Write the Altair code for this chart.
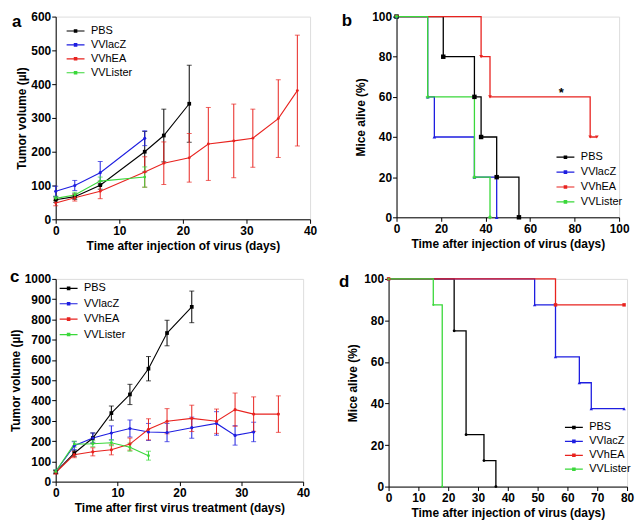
import altair as alt
import pandas as pd

FONT = "Liberation Sans"
SERIES = ["PBS", "VVlacZ", "VVhEA", "VVLister"]
COLORS = ["#000000", "#1e1ee0", "#e8231f", "#3ad83a"]

# ---- panel a: tumor volume ----
a_t_pbs = [0, 3, 7, 14, 17, 21]
a_pbs = [58, 67, 101, 200, 248, 342]
a_pbs_err = [8, 8, 12, 60, 78, 114]
a_t_lacz = [0, 3, 7, 14]
a_lacz = [83, 100, 138, 240]
a_lacz_err = [15, 15, 33, 22]
a_t_hea = [0, 3, 7, 14, 17, 21, 24, 28, 31, 35, 38]
a_hea = [48, 64, 83, 140, 166, 182, 223, 232, 240, 298, 381]
a_hea_err = [8, 10, 22, 45, 63, 72, 108, 109, 86, 115, 164]
a_t_lister = [0, 3, 7, 14]
a_lister = [62, 72, 113, 125]
a_lister_err = [6, 8, 12, 30]

# ---- panel b: survival ----
b_t_pbs = [0, 21, 35, 38, 45, 55]
b_pbs = [100, 80, 60, 40, 20, 0]
b_t_lacz = [0, 14, 17, 35, 45]
b_lacz = [100, 60, 40, 20, 0]
b_t_hea = [0, 38, 42, 87, 90]
b_hea = [100, 80, 60, 40, 40]
b_t_lister = [0, 14, 35, 42]
b_lister = [100, 60, 20, 0]
b_star_t = [74]
b_star_y = [62]

# ---- panel c: tumor volume ----
c_t_pbs = [0, 3, 6, 9, 12, 15, 18, 22]
c_pbs = [47, 140, 215, 338, 430, 557, 733, 862]
c_pbs_err = [8, 15, 25, 35, 50, 60, 63, 78]
c_t_lacz = [0, 3, 6, 9, 12, 15, 18, 22, 26, 29, 32]
c_lacz = [50, 177, 215, 240, 262, 245, 242, 266, 287, 228, 245]
c_lacz_err = [8, 20, 25, 35, 42, 42, 45, 52, 58, 48, 48]
c_t_hea = [0, 3, 6, 9, 12, 15, 18, 22, 26, 29, 32, 36]
c_hea = [45, 133, 147, 157, 185, 258, 298, 312, 298, 355, 333, 333]
c_hea_err = [8, 15, 20, 25, 30, 52, 62, 65, 60, 82, 85, 90]
c_t_lister = [0, 3, 6, 9, 12, 15]
c_lister = [50, 185, 187, 192, 170, 128]
c_lister_err = [8, 15, 15, 15, 20, 22]

# ---- panel d: survival ----
d_t_pbs = [0, 22, 26, 32, 36]
d_pbs = [100, 75, 25, 12.5, 0]
d_t_lacz = [0, 49, 56, 64, 68, 79]
d_lacz = [100, 87.5, 62.5, 50, 37.5, 37.5]
d_t_hea = [0, 56, 79]
d_hea = [100, 87.5, 87.5]
d_t_lister = [0, 15, 18]
d_lister = [100, 87.5, 0]

LEG_PATH = "M-1.2,0H1.2M-0.16,-0.16H0.16V0.16H-0.16Z"


def tumor_df(ts, ms, es):
    rows = []
    for name, t, m, e in zip(SERIES, ts, ms, es):
        for ti, mi, ei in zip(t, m, e):
            rows.append(dict(series=name, t=ti, mean=mi, lo=mi - ei, hi=mi + ei))
    return pd.DataFrame(rows)


def surv_df(ts, ys):
    rows = []
    for name, t, y in zip(SERIES, ts, ys):
        for ti, yi in zip(t, y):
            rows.append(dict(series=name, t=ti, y=yi))
    return pd.DataFrame(rows)


def axis(vals, title, lpad=2, tpad=4):
    return alt.Axis(values=vals, title=title, grid=False, format="d", labelFont=FONT,
                    labelFontSize=12, labelFontWeight="bold", titleFont=FONT, titleFontSize=12,
                    titleFontWeight="bold", labelColor="black", titleColor="black",
                    domainColor="black", tickColor="black", tickSize=4, labelPadding=lpad,
                    titlePadding=tpad, labelFlush=False, labelOverlap=False)


def legend(x, y, spacing):
    return alt.Legend(title=None, orient="none", legendX=x, legendY=y, symbolType=LEG_PATH,
                      symbolSize=225, symbolStrokeWidth=1.2, labelFont=FONT, labelFontSize=11,
                      labelColor="black", rowPadding=spacing, labelOffset=7, padding=0)


def letter(ch, x, y):
    return alt.Chart(pd.DataFrame({"l": [ch]})).mark_text(
        font=FONT, fontSize=17, fontWeight="bold", align="left", baseline="middle", color="black"
    ).encode(text="l:N", x=alt.value(x), y=alt.value(y))


def tumor_panel(df, w, h, xmax, xvals, ymax, yvals, xtitle, leg, let, shapes, sizes):
    xs = alt.Scale(domain=[0, xmax], nice=False)
    ys = alt.Scale(domain=[0, ymax], nice=False)
    xa = axis(xvals, xtitle)
    ya = axis(yvals, "Tumor volume (µl)", lpad=1, tpad=2)
    line = alt.Chart(df).mark_line(strokeWidth=1.1).encode(
        x=alt.X("t:Q", scale=xs, axis=xa), y=alt.Y("mean:Q", scale=ys, axis=ya),
        color=alt.Color("series:N", scale=alt.Scale(domain=SERIES, range=COLORS), legend=leg))
    layers = []
    for i, name in enumerate(SERIES):
        sub = df[df.series == name]
        layers.append(alt.Chart(sub).mark_errorbar(ticks=True, thickness=1, color=COLORS[i]).encode(
            x=alt.X("t:Q", scale=xs, axis=xa), y=alt.Y("lo:Q", scale=ys, axis=ya), y2="hi:Q"))
    layers.append(line)
    for i, name in enumerate(SERIES):
        sub = df[df.series == name]
        layers.append(alt.Chart(sub).mark_point(filled=True, opacity=1, size=sizes[i],
                                                shape=shapes[i], color=COLORS[i]).encode(
            x=alt.X("t:Q", scale=xs, axis=xa), y=alt.Y("mean:Q", scale=ys, axis=ya)))
    layers.append(let)
    return alt.layer(*layers).properties(width=w, height=h)


def surv_panel(df, w, h, xmax, xvals, xtitle, leg, let, shapes, sizes, extra=None):
    xs = alt.Scale(domain=[0, xmax], nice=False)
    ys = alt.Scale(domain=[0, 100], nice=False)
    xa = axis(xvals, xtitle)
    ya = axis(list(range(0, 101, 20)), "Mice alive (%)", lpad=1, tpad=4)
    line = alt.Chart(df).mark_line(interpolate="step-after", strokeWidth=1.3).encode(
        x=alt.X("t:Q", scale=xs, axis=xa), y=alt.Y("y:Q", scale=ys, axis=ya),
        color=alt.Color("series:N", scale=alt.Scale(domain=SERIES, range=COLORS), legend=leg))
    layers = [line]
    for i, name in enumerate(SERIES):
        sub = df[df.series == name]
        layers.append(alt.Chart(sub).mark_point(filled=True, opacity=1, size=sizes[i],
                                                shape=shapes[i], color=COLORS[i]).encode(
            x=alt.X("t:Q", scale=xs, axis=xa), y=alt.Y("y:Q", scale=ys, axis=ya)))
    if extra is not None:
        layers.append(extra)
    layers.append(let)
    return alt.layer(*layers).properties(width=w, height=h)


dfa = tumor_df([a_t_pbs, a_t_lacz, a_t_hea, a_t_lister], [a_pbs, a_lacz, a_hea, a_lister],
               [a_pbs_err, a_lacz_err, a_hea_err, a_lister_err])
dfc = tumor_df([c_t_pbs, c_t_lacz, c_t_hea, c_t_lister], [c_pbs, c_lacz, c_hea, c_lister],
               [c_pbs_err, c_lacz_err, c_hea_err, c_lister_err])
dfb = surv_df([b_t_pbs, b_t_lacz, b_t_hea, b_t_lister], [b_pbs, b_lacz, b_hea, b_lister])
dfd = surv_df([d_t_pbs, d_t_lacz, d_t_hea, d_t_lister], [d_pbs, d_lacz, d_hea, d_lister])

star = alt.Chart(pd.DataFrame({"t": b_star_t, "y": b_star_y, "s": ["*"]})).mark_text(
    font=FONT, fontSize=13, fontWeight="bold", color="black"
).encode(x=alt.X("t:Q"), y=alt.Y("y:Q"), text="s:N")

pa = tumor_panel(dfa, 256, 204, 40, [0, 10, 20, 30, 40], 600, list(range(0, 601, 100)),
                 "Time after injection of virus (days)", legend(11.5, 6, 0), letter("a", -44, 5),
                 ["square", "circle", "circle", "circle"], [14, 10, 8, 8])
pb = surv_panel(dfb, 224, 202, 100, [0, 20, 40, 60, 80, 100],
                "Time after injection of virus (days)", legend(161.5, 133, 1), letter("b", -55, 4),
                ["square", "triangle-up", "triangle-down", "cross"], [20, 14, 14, 14], star)
pc = tumor_panel(dfc, 249, 204, 40, [0, 10, 20, 30, 40], 1000, list(range(0, 1001, 100)),
                 "Time after first virus treatment (days)", legend(4.5, 1, 1.5),
                 letter("c", -46, -2),
                 ["square", "circle", "circle", "circle"], [14, 10, 10, 8])
pd_ = surv_panel(dfd, 240, 209, 80, list(range(0, 81, 10)),
                 "Time after injection of virus (days)", legend(178, 141, 0), letter("d", -50, 3),
                 ["circle", "triangle-up", "square", "cross"], [8, 12, 12, 6])

row1 = alt.hconcat(pa, pb, spacing=23).resolve_scale(color="independent")
row2 = alt.hconcat(pc, pd_, spacing=27).resolve_scale(color="independent")
chart = alt.vconcat(row1, row2, spacing=15).resolve_scale(
    color="independent"
).properties(padding=0).configure_view(stroke=None).configure(font=FONT)

chart.save("out.html", embed_options={"renderer": "svg", "actions": False})
